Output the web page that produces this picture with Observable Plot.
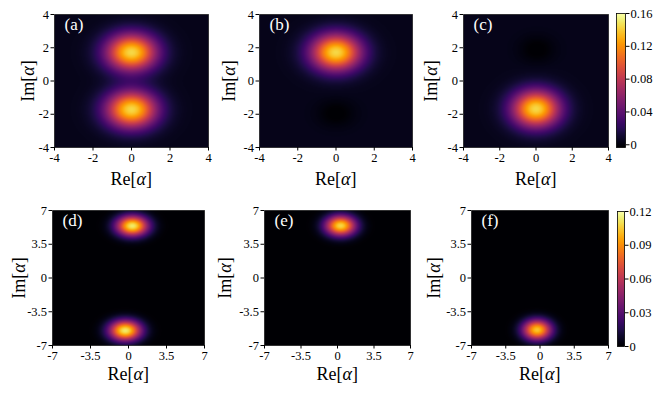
<!DOCTYPE html>
<html>
<head>
<meta charset="utf-8">
<script src="https://cdn.jsdelivr.net/npm/d3@7"></script>
<script src="https://cdn.jsdelivr.net/npm/@observablehq/plot@0.6"></script>
<style>
  body { margin: 0; background: white; }
  #fig { position: relative; width: 664px; height: 394px; background: white; font-family: "Liberation Serif", "DejaVu Serif", serif; color: black; }
  #fig svg { position: absolute; overflow: visible; }
  .lab { position: absolute; font-size: 18px; white-space: nowrap; line-height: 1; }
  .lab i { font-style: italic; }
</style>
</head>
<body>
<div id="fig"></div>
<script>
// ---------- data ----------
const panelLabels = ["(a)", "(b)", "(c)", "(d)", "(e)", "(f)"];
const topTicks = [-4, -2, 0, 2, 4];
const bottomTicks = [-7, -3.5, 0, 3.5, 7];
const topColorTicks = [0, 0.04, 0.08, 0.12, 0.16];
const bottomColorTicks = [0, 0.03, 0.06, 0.09, 0.12];
const topColorDomain = [-0.0033, 0.16];
const bottomColorDomain = [0, 0.12];
// background level far from the lobes (top row looks dark navy, bottom row black)
const panelBackground = [0.004, 0.004, 0.004, 0, 0, 0];

// Gaussian-like lobes seen in each panel (centre, peak value, half-widths)
const blobPanel   = ["(a)", "(a)", "(b)", "(b)", "(c)", "(c)", "(d)", "(d)", "(e)", "(f)"];
const blobRe      = [0, 0, 0, 0, 0, 0.05, 0.35, -0.3, 0.3, -0.3];
const blobIm      = [1.72, -1.72, 1.72, -1.95, -1.68, 1.9, 5.4, -5.45, 5.42, -5.38];
const blobPeak    = [0.14, 0.14, 0.14, -0.008, 0.14, -0.008, 0.113, 0.113, 0.108, 0.104];
const blobWidthRe = [1.3, 1.3, 1.3, 0.9, 1.3, 0.9, 1.45, 1.45, 1.45, 1.45];
const blobWidthIm = [1.1, 1.1, 1.1, 0.75, 1.1, 0.75, 1.05, 1.05, 1.05, 1.05];

// ---------- drawing ----------
const fig = document.getElementById("fig");
const font = "'Liberation Serif', 'DejaVu Serif', serif";

function fieldFor(label) {
  const k = panelLabels.indexOf(label);
  const idx = blobPanel.map((p, i) => p === label ? i : -1).filter(i => i >= 0);
  return (x, y) => {
    let v = panelBackground[k];
    for (const i of idx) {
      const dx = (x - blobRe[i]) / blobWidthRe[i];
      const dy = (y - blobIm[i]) / blobWidthIm[i];
      v += blobPeak[i] * Math.exp(-dx * dx - dy * dy);
    }
    return v;
  };
}

const mL = 50, mR = 12, mT = 10, mB = 30;

function addPanel(label, box, ticks, colorDomain) {
  const e = ticks[ticks.length - 1];
  const svg = Plot.plot({
    width: box.w + mL + mR,
    height: box.h + mT + mB,
    marginLeft: mL, marginRight: mR, marginTop: mT, marginBottom: mB,
    style: { fontFamily: font, fontSize: "12.5px", background: "transparent", overflow: "visible" },
    x: { domain: [-e, e], ticks, tickFormat: d => String(d), tickSize: 3.5, tickPadding: 2, label: null },
    y: { domain: [-e, e], ticks, tickFormat: d => String(d), tickSize: 3.5, tickPadding: 2, label: null },
    color: { type: "linear", scheme: "inferno", domain: colorDomain, clamp: true },
    marks: [
      Plot.raster({ fill: fieldFor(label), x1: -e, x2: e, y1: -e, y2: e, pixelSize: 1 }),
      Plot.frame({ stroke: "#000", strokeOpacity: 0.6 }),
      Plot.text([label], { text: d => d, frameAnchor: "top-left", dx: 10, dy: 3, fill: "white",
                           fontSize: 17, textAnchor: "start", lineAnchor: "top", fontFamily: font })
    ]
  });
  svg.style.left = (box.x - mL) + "px";
  svg.style.top = (box.y - mT) + "px";
  fig.appendChild(svg);
}

function addColorbar(box, cticks, colorDomain) {
  const svg = Plot.plot({
    width: box.w + 45,
    height: box.h + mT + mB,
    marginLeft: 0, marginRight: 45, marginTop: mT, marginBottom: mB,
    style: { fontFamily: font, fontSize: "12.5px", background: "transparent", overflow: "visible" },
    x: { domain: [0, 1], axis: null },
    y: { domain: colorDomain, ticks: cticks, tickFormat: d => String(d), axis: "right", tickSize: 3.5, tickPadding: 1.5, label: null },
    color: { type: "linear", scheme: "inferno", domain: colorDomain, clamp: true },
    marks: [
      Plot.raster({ fill: (x, y) => y, x1: 0, x2: 1, y1: colorDomain[0], y2: colorDomain[1], pixelSize: 1 }),
      Plot.frame({ stroke: "#000", strokeWidth: 0.8 })
    ]
  });
  svg.style.left = box.x + "px";
  svg.style.top = (box.y - mT) + "px";
  fig.appendChild(svg);
}

function addLabel(html, cx, cy, rotate) {
  const d = document.createElement("div");
  d.className = "lab";
  d.innerHTML = html;
  fig.appendChild(d);
  const w = d.offsetWidth, h = d.offsetHeight;
  d.style.left = (cx - w / 2) + "px";
  d.style.top = (cy - h / 2) + "px";
  if (rotate) d.style.transform = "rotate(-90deg)";
}

const topBoxes = [
  { x: 54, y: 14, w: 154, h: 133 },
  { x: 259, y: 14, w: 153, h: 133 },
  { x: 463, y: 14, w: 145, h: 133 }
];
const bottomBoxes = [
  { x: 52, y: 210, w: 152, h: 135 },
  { x: 264, y: 210, w: 146, h: 135 },
  { x: 471, y: 210, w: 137, h: 135 }
];

topBoxes.forEach((b, i) => addPanel(panelLabels[i], b, topTicks, topColorDomain));
bottomBoxes.forEach((b, i) => addPanel(panelLabels[i + 3], b, bottomTicks, bottomColorDomain));
addColorbar({ x: 616, y: 13, w: 9, h: 134 }, topColorTicks, topColorDomain);
addColorbar({ x: 617, y: 211, w: 7, h: 135 }, bottomColorTicks, bottomColorDomain);

const reLab = "Re[<i>α</i>]", imLab = "Im[<i>α</i>]";
topBoxes.forEach(b => addLabel(reLab, b.x + b.w / 2, 179));
bottomBoxes.forEach(b => addLabel(reLab, b.x + b.w / 2, 374));
[27, 228, 430].forEach((cx, i) => addLabel(imLab, cx, topBoxes[i].y + topBoxes[i].h / 2, true));
[18, 224, 433].forEach((cx, i) => addLabel(imLab, cx, bottomBoxes[i].y + bottomBoxes[i].h / 2, true));
</script>
</body>
</html>
